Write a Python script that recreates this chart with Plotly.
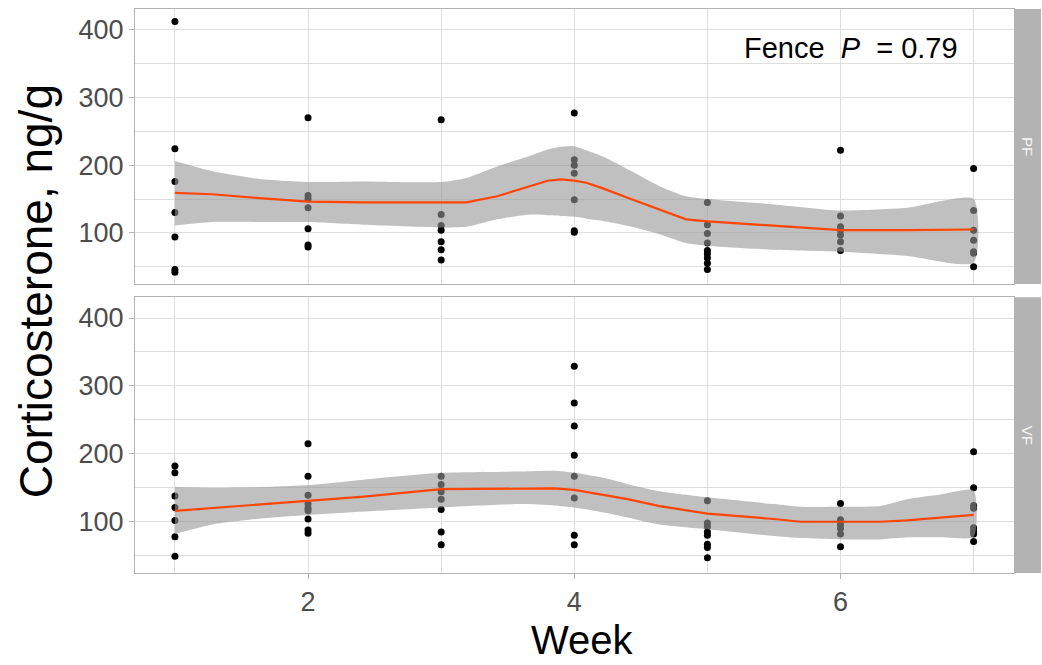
import plotly.graph_objects as go

# ---- observed corticosterone (ng/g) by week, per fence group ----
weeks = [1, 2, 3, 4, 5, 6, 7]

pf_values = [
    [412, 224, 176, 130, 94, 46, 42],
    [270, 155, 150, 137, 106, 82, 79],
    [267, 127, 111, 104, 87, 75, 60],
    [277, 208, 200, 188, 149, 103, 101],
    [145, 112, 99, 85, 74, 69, 63, 55, 46],
    [222, 125, 109, 104, 97, 87, 74],
    [195, 133, 104, 89, 72, 70, 50],
]

vf_values = [
    [182, 172, 138, 121, 102, 78, 49],
    [215, 167, 139, 126, 120, 116, 104, 88, 83],
    [167, 155, 144, 133, 118, 85, 66],
    [329, 275, 241, 198, 167, 135, 80, 66],
    [131, 98, 93, 85, 80, 67, 62, 47],
    [127, 103, 96, 90, 82, 63],
    [203, 150, 124, 120, 91, 86, 82, 71],
]

# ---- smoothed trend with confidence band ----
pf_smooth_x = [1, 1.28, 1.66, 2, 2.42, 3, 3.19, 3.42, 3.67, 3.8, 3.9, 4, 4.09,
               4.21, 4.41, 4.64, 4.84, 5, 5.5, 6, 6.5, 7]
pf_smooth_fit = [159, 157, 151, 146, 145, 145, 145, 154, 169, 177, 179, 177, 174,
                 166, 151, 135, 120, 117, 110, 104, 104, 105]
pf_smooth_hi = [206, 191, 179, 175, 176, 175, 181, 198, 214, 223, 227, 228, 222,
                213, 193, 169, 154, 150, 142, 133, 137, 150]
pf_smooth_lo = [111, 116, 116, 116, 112, 108, 109, 120, 127, 126, 125, 124, 121,
                118, 110, 98, 85, 81, 75, 72, 66, 56]

vf_smooth_x = [1, 1.28, 1.66, 2, 2.42, 3, 3.6, 3.85, 4, 4.21, 4.41, 4.64, 5, 5.5,
               5.7, 6, 6.3, 6.5, 6.75, 7]
vf_smooth_fit = [116, 120, 126, 131, 137, 148, 149, 149, 147, 140, 133, 123, 112,
                 104, 100, 100, 100, 102, 106, 110]
vf_smooth_hi = [151, 150, 151, 154, 162, 172, 174, 175, 172, 165, 155, 145, 136,
                126, 122, 122, 123, 133, 140, 146]
vf_smooth_lo = [82, 96, 105, 110, 115, 121, 126, 124, 121, 114, 106, 96, 89, 79,
                76, 74, 74, 77, 77, 78]

facet_labels = ["PF", "VF"]
annotation_text = "Fence\u00a0\u00a0<i>P</i>\u00a0 = 0.79"

FONT = "Liberation Sans, Arial, sans-serif"
GRID = "#DEDEDE"
BORDER = "#B3B3B3"
BAND = "rgba(150,150,150,0.6)"
LINE = "#FF4500"

fig = go.Figure()

panels = [
    ("x", "y", pf_values, pf_smooth_x, pf_smooth_fit, pf_smooth_hi, pf_smooth_lo),
    ("x2", "y2", vf_values, vf_smooth_x, vf_smooth_fit, vf_smooth_hi, vf_smooth_lo),
]

for xa, ya, vals, sx, sfit, shi, slo in panels:
    px, py = [], []
    for w, vs in zip(weeks, vals):
        px += [w] * len(vs)
        py += vs
    fig.add_trace(go.Scatter(
        x=px, y=py, mode="markers", xaxis=xa, yaxis=ya,
        marker=dict(color="black", size=7), showlegend=False, hoverinfo="skip"))
    fig.add_trace(go.Scatter(
        x=sx + sx[::-1], y=shi + slo[::-1], mode="lines", fill="toself",
        fillcolor=BAND, line=dict(width=0, shape="spline", smoothing=0.6),
        xaxis=xa, yaxis=ya, showlegend=False, hoverinfo="skip"))
    fig.add_trace(go.Scatter(
        x=sx, y=sfit, mode="lines", line=dict(color=LINE, width=2.2),
        xaxis=xa, yaxis=ya, showlegend=False, hoverinfo="skip"))

x_dom = [0, 0.9697]
top_dom = [0.5124, 1.0]
bot_dom = [0.0, 0.4888]

common_x = dict(
    range=[0.7, 7.3], domain=x_dom, tickmode="array", tickvals=[2, 4, 6],
    showgrid=True, gridcolor=GRID, gridwidth=1,
    minor=dict(tickmode="array", tickvals=[1, 3, 5, 7], showgrid=True,
               gridcolor=GRID, gridwidth=1),
    showline=True, linecolor=BORDER, linewidth=1, mirror=True,
    zeroline=False, tickfont=dict(family=FONT, size=27, color="#4D4D4D"),
)
common_y = dict(
    range=[24.5, 430.5], tickmode="array", tickvals=[100, 200, 300, 400],
    showgrid=True, gridcolor=GRID, gridwidth=1,
    minor=dict(tickmode="array", tickvals=[50, 150, 250, 350], showgrid=True,
               gridcolor=GRID, gridwidth=1),
    showline=True, linecolor=BORDER, linewidth=1, mirror=True,
    zeroline=False, ticks="outside", ticklen=5, tickcolor=BORDER,
    tickfont=dict(family=FONT, size=27, color="#4D4D4D"),
)

fig.update_layout(
    width=1042, height=665,
    margin=dict(l=135, r=1, t=9, b=92),
    paper_bgcolor="white", plot_bgcolor="white",
    font=dict(family=FONT),
    xaxis=dict(common_x, anchor="y", showticklabels=False, ticks=""),
    xaxis2=dict(common_x, anchor="y2", matches="x", ticks="outside",
                ticklen=5, tickcolor=BORDER),
    yaxis=dict(common_y, domain=top_dom, anchor="x"),
    yaxis2=dict(common_y, domain=bot_dom, anchor="x2"),
)

# facet strips on the right
for label, dom in zip(facet_labels, [top_dom, bot_dom]):
    fig.add_shape(type="rect", xref="paper", yref="paper",
                  x0=0.9702, x1=1.0, y0=dom[0], y1=dom[1],
                  fillcolor="#B3B3B3", line=dict(width=0), layer="above")
    fig.add_annotation(xref="paper", yref="paper", x=0.9851,
                       y=(dom[0] + dom[1]) / 2, text=label, showarrow=False,
                       textangle=90, xanchor="center", yanchor="middle",
                       font=dict(family=FONT, size=15, color="#F5F5F5"))

# axis titles
fig.add_annotation(xref="paper", yref="paper", x=0.4934, y=-0.119,
                   xanchor="center", yanchor="middle",
                   text="Week", showarrow=False,
                   font=dict(family=FONT, size=40, color="black"))
fig.add_annotation(xref="paper", yref="paper", x=-0.109, y=0.5,
                   xanchor="center", yanchor="middle",
                   text="Corticosterone, ng/g", showarrow=False, textangle=-90,
                   font=dict(family=FONT, size=46, color="black"))

# test result in the upper panel
fig.add_annotation(xref="x", yref="y", x=6.08, y=373, text=annotation_text,
                   xanchor="center", yanchor="middle", showarrow=False,
                   font=dict(family=FONT, size=29, color="black"))

fig.write_html("out.html")
